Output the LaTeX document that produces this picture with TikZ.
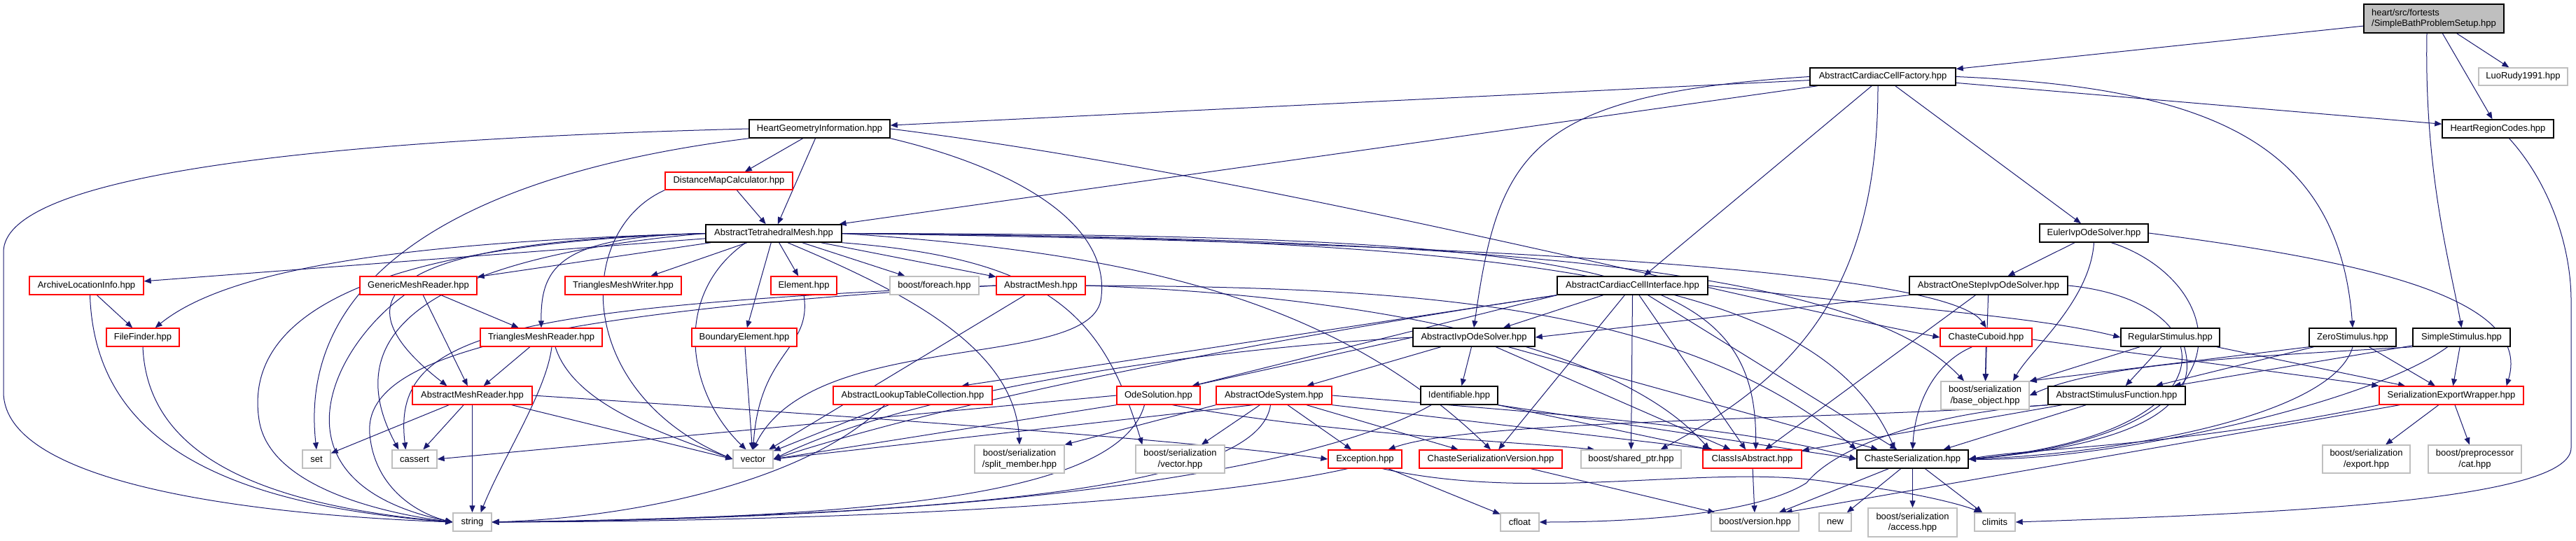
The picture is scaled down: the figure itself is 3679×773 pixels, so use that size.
\documentclass[tikz,border=0pt]{standalone}
\usepackage{fontspec}
\setmainfont{Liberation Sans}
\usetikzlibrary{arrows.meta}
\definecolor{edgeblue}{HTML}{191970}
\definecolor{grayb}{HTML}{BFBFBF}
\definecolor{redb}{HTML}{FF0000}
\definecolor{rootfill}{HTML}{BFBFBF}
\pgfdeclarelayer{paper}
\pgfdeclarelayer{links}
\pgfsetlayers{paper,links,main}
\tikzset{
 nbox/.style={draw, fill=white, inner sep=0pt, font=\fontsize{13}{15.5}\selectfont, align=center},
 blk/.style={nbox, draw=black, line width=1.5pt},
 rd/.style={nbox, draw=redb, line width=1.3pt},
 gr/.style={nbox, draw=grayb, line width=1.3pt},
 rootbox/.style={nbox, draw=black, fill=rootfill, line width=1.5pt, align=left},
 dep/.style={draw=edgeblue, line width=1pt, -{Triangle[length=10pt,width=8pt]}},
}
\newcommand\nd[7]{\node[#1, minimum width=#4pt-#3pt, minimum height=#6pt-#5pt] (#2) at ({(#3+#4)/2},{(#5+#6)/2}) {#7};}
\begin{document}
\begin{tikzpicture}[x=1pt,y=-1pt]
\begin{pgfonlayer}{paper}
\fill[white] (0,0) rectangle (3679,773);
\end{pgfonlayer}
\useasboundingbox (0,0) rectangle (3679,773);
% nodes
\nd{rootbox}{sb}{3376}{3576}{6}{47}{heart/src/fortests\\/SimpleBathProblemSetup.hpp}
\nd{blk}{accf}{2585}{2793}{97}{122}{AbstractCardiacCellFactory.hpp}
\nd{gr}{luo}{3540}{3667}{97}{122}{LuoRudy1991.hpp}
\nd{blk}{hgi}{1070}{1271}{171}{197}{HeartGeometryInformation.hpp}
\nd{blk}{hrc}{3488}{3647}{171}{197}{HeartRegionCodes.hpp}
\nd{rd}{dmc}{950}{1132}{246}{271}{DistanceMapCalculator.hpp}
\nd{blk}{atm}{1008}{1202}{321}{346}{AbstractTetrahedralMesh.hpp}
\nd{blk}{eios}{2913}{3068}{320}{346}{EulerIvpOdeSolver.hpp}
\nd{rd}{ali}{42}{205}{395}{421}{ArchiveLocationInfo.hpp}
\nd{rd}{gmr}{514}{681}{395}{421}{GenericMeshReader.hpp}
\nd{rd}{tmw}{807}{973}{395}{421}{TrianglesMeshWriter.hpp}
\nd{rd}{elem}{1101}{1195}{395}{421}{Element.hpp}
\nd{gr}{foreach}{1271}{1398}{395}{421}{boost/foreach.hpp}
\nd{rd}{am}{1423}{1550}{395}{421}{AbstractMesh.hpp}
\nd{blk}{acci}{2224}{2439}{395}{421}{AbstractCardiacCellInterface.hpp}
\nd{blk}{aos}{2727}{2953}{395}{421}{AbstractOneStepIvpOdeSolver.hpp}
\nd{rd}{ff}{152}{256}{469}{495}{FileFinder.hpp}
\nd{rd}{tmr}{686}{860}{469}{495}{TrianglesMeshReader.hpp}
\nd{rd}{be}{988}{1138}{469}{495}{BoundaryElement.hpp}
\nd{blk}{aios}{2018}{2192}{469}{495}{AbstractIvpOdeSolver.hpp}
\nd{rd}{cc}{2771}{2902}{469}{495}{ChasteCuboid.hpp}
\nd{blk}{rs}{3029}{3170}{469}{495}{RegularStimulus.hpp}
\nd{blk}{zs}{3298}{3422}{469}{495}{ZeroStimulus.hpp}
\nd{blk}{ss}{3446}{3585}{469}{495}{SimpleStimulus.hpp}
\nd{rd}{amr}{589}{760}{552}{578}{AbstractMeshReader.hpp}
\nd{rd}{altc}{1190}{1417}{552}{578}{AbstractLookupTableCollection.hpp}
\nd{rd}{odes}{1595}{1714}{552}{578}{OdeSolution.hpp}
\nd{rd}{aosys}{1737}{1902}{552}{578}{AbstractOdeSystem.hpp}
\nd{blk}{ident}{2029}{2139}{552}{578}{Identifiable.hpp}
\nd{gr}{bso}{2772}{2898}{545}{585}{boost/serialization\\/base\_object.hpp}
\nd{blk}{asf}{2925}{3121}{552}{578}{AbstractStimulusFunction.hpp}
\nd{rd}{sew}{3398}{3604}{552}{578}{SerializationExportWrapper.hpp}
\nd{gr}{set}{432}{472}{643}{669}{set}
\nd{gr}{cassert}{560}{624}{643}{669}{cassert}
\nd{gr}{vector}{1047}{1104}{643}{669}{vector}
\nd{gr}{split}{1392}{1520}{636}{676}{boost/serialization\\/split\_member.hpp}
\nd{gr}{bsv}{1622}{1749}{636}{676}{boost/serialization\\/vector.hpp}
\nd{rd}{exc}{1897}{2002}{643}{669}{Exception.hpp}
\nd{rd}{csv}{2027}{2231}{643}{669}{ChasteSerializationVersion.hpp}
\nd{gr}{sp}{2258}{2401}{643}{669}{boost/shared\_ptr.hpp}
\nd{rd}{cia}{2432}{2573}{643}{669}{ClassIsAbstract.hpp}
\nd{blk}{cs}{2652}{2811}{643}{669}{ChasteSerialization.hpp}
\nd{gr}{bse}{3317}{3442}{636}{676}{boost/serialization\\/export.hpp}
\nd{gr}{bpc}{3468}{3601}{636}{676}{boost/preprocessor\\/cat.hpp}
\nd{gr}{string}{647}{702}{733}{759}{string}
\nd{gr}{cfloat}{2143}{2198}{733}{759}{cfloat}
\nd{gr}{bv}{2444}{2569}{733}{759}{boost/version.hpp}
\nd{gr}{new}{2598}{2644}{733}{759}{new}
\nd{gr}{bsa}{2668}{2795}{726}{767}{boost/serialization\\/access.hpp}
\nd{gr}{climits}{2820}{2878}{733}{759}{climits}
\begin{pgfonlayer}{links}
% root
\draw[dep] (sb) -- (accf);
\draw[dep] (sb) -- (luo);
\draw[dep] (sb) -- (hrc);
\draw[dep] ([xshift=-10pt]sb.south) .. controls (3462,250) and (3500,380) .. (ss.north);
% AbstractCardiacCellFactory
\draw[dep] (accf) -- (hgi);
\draw[dep] (accf) -- (atm);
\draw[dep] (accf.west) .. controls (2180,135) and (2140,220) .. (aios.north);
\draw[dep] (accf) -- (acci);
\draw[dep] (accf) -- (eios);
\draw[dep] (accf) -- (hrc);
\draw[dep] (accf.east) .. controls (3150,125) and (3340,200) .. (zs.north);
\draw[dep] ([xshift=-7pt]accf.south) .. controls (2682,420) and (2560,540) .. ([xshift=-30pt]sp.north east);
% HeartGeometryInformation
\draw[dep] (hgi) -- (dmc);
\draw[dep] (hgi) -- (atm);
\draw[dep] (hgi.south west) .. controls (650,250) and (425,400) .. (set.north);
\draw[dep] (hgi.west) .. controls (450,200) and (5,250) .. (5,360) -- (5,560) .. controls (5,690) and (350,735) .. (string.west);
\draw[dep] (hgi.south east) .. controls (1450,240) and (1590,320) .. (1572,430) .. controls (1550,530) and (1160,470) .. (vector.north);
\draw[dep] (hgi.east) .. controls (1800,250) and (2450,420) .. (cc.west);
% DistanceMapCalculator
\draw[dep] (dmc) -- (atm);
\draw[dep] (dmc.south west) .. controls (820,330) and (820,560) .. (vector.west);
% AbstractTetrahedralMesh
\draw[dep] (atm) -- (ali);
\draw[dep] (atm.west) .. controls (600,345) and (330,380) .. ([xshift=-35pt]ff.north east);
\draw[dep] (atm) -- (gmr);
\draw[dep] (atm.west) .. controls (800,338) and (772,380) .. (tmr.north);
\draw[dep] (atm.west) .. controls (560,345) and (470,420) .. ([xshift=50pt]amr.north west);
\draw[dep] (atm.west) .. controls (480,350) and (350,470) .. (370,600) .. controls (385,700) and (560,735) .. (string.west);
\draw[dep] (atm.west) .. controls (700,360) and (460,440) .. ([xshift=10pt]cassert.north west);
\draw[dep] (atm) -- (tmw);
\draw[dep] (atm) -- (elem);
\draw[dep] (atm) -- (be);
\draw[dep] (atm) -- (foreach);
\draw[dep] (atm) -- (am);
\draw[dep] ([xshift=-40pt]atm.south) .. controls (960,420) and (980,560) .. ([xshift=-10pt]vector.north);
\draw[dep] ([xshift=20pt]atm.south) .. controls (1300,420) and (1450,500) .. (split.north);
\draw[dep] (atm.south east) .. controls (1500,370) and (1575,450) .. ([xshift=10pt]bsv.north west);
\draw[dep] (atm.east) .. controls (1600,360) and (1900,420) .. (csv.north);
\draw[dep] (atm.east) .. controls (2000,345) and (2780,380) .. (cc.north);
\draw[dep] (atm.east) .. controls (2300,335) and (2510,380) .. ([xshift=5pt]cia.north);
\draw[dep] (atm.east) .. controls (2200,340) and (2600,400) .. ([xshift=-25pt]cs.north);
\draw[dep] (atm.east) .. controls (2100,340) and (2650,380) .. ([xshift=-30pt]bso.north);
% mesh readers
\draw[dep] (gmr) -- (tmr);
\draw[dep] (gmr) -- (amr);
\draw[dep] ([xshift=-20pt]gmr.south) .. controls (470,500) and (380,690) .. (string.west);
\draw[dep] (tmr) -- (amr);
\draw[dep] ([xshift=15pt]tmr.south) .. controls (780,560) and (720,650) .. ([xshift=12pt]string.north);
\draw[dep] ([xshift=20pt]tmr.south) .. controls (820,580) and (950,620) .. (vector.west);
\draw[dep] (amr) -- (set);
\draw[dep] (amr) -- (cassert);
\draw[dep] (amr) -- (string);
\draw[dep] ([xshift=-30pt]amr.south east) -- (vector.west);
\draw[dep] (amr.east) .. controls (1300,600) and (1700,630) .. (exc.west);
\draw[dep] (ali) -- (ff);
\draw[dep] ([xshift=5pt]ali.south) .. controls (135,620) and (300,720) .. (string.west);
\draw[dep] (ff.south) .. controls (210,640) and (350,720) .. (string.west);
\draw[dep] (elem.south) .. controls (1160,500) and (1085,500) .. (vector.north);
\draw[dep] (be) -- (vector);
% AbstractMesh
\draw[dep] (am) -- (vector);
\draw[dep] (am.west) .. controls (700,440) and (560,480) .. ([xshift=20pt]cassert.north west);
\draw[dep] (am.west) .. controls (700,450) and (520,520) .. (528,620) .. controls (535,700) and (600,735) .. (string.west);
\draw[dep] (am.east) .. controls (2000,410) and (2400,430) .. (cs.north west);
\draw[dep] (am.east) .. controls (1900,420) and (2300,480) .. ([xshift=10pt]cia.north west);
% AbstractCardiacCellInterface
\draw[dep] (acci) -- (aios);
\draw[dep] (acci.south west) -- ([xshift=-12pt]odes.north east);
\draw[dep] (acci.south west) -- ([xshift=70pt]altc.north);
\draw[dep] (acci) -- (csv);
\draw[dep] (acci.south) -- (sp.north);
\draw[dep] (acci) -- (cia);
\draw[dep] (acci) -- (cs);
\draw[dep] (acci.east) .. controls (2700,440) and (2900,450) .. (rs.west);
\draw[dep] (acci.south west) .. controls (1900,470) and (1400,560) .. (vector.east);
% AbstractIvpOdeSolver
\draw[dep] (aios.west) -- ([xshift=-12pt]odes.north east);
\draw[dep] (aios) -- (aosys);
\draw[dep] (aios) -- (ident);
\draw[dep] (aios.west) .. controls (1700,500) and (1300,560) .. (vector.east);
\draw[dep] (aios) -- (cia);
\draw[dep] (aios) -- (cs);
% AbstractOneStepIvpOdeSolver, EulerIvpOdeSolver
\draw[dep] (aos.south west) -- (aios.east);
\draw[dep] (aos) -- (cia);
\draw[dep] (aos) -- (bso);
\draw[dep] (aos.east) .. controls (3180,430) and (3200,620) .. (cs.east);
\draw[dep] (eios) -- (aos);
\draw[dep] (eios.south) .. controls (2985,430) and (2900,500) .. ([xshift=40pt]bso.north);
\draw[dep] ([xshift=25pt]eios.south) .. controls (3180,400) and (3240,620) .. (cs.east);
\draw[dep] (eios.east) .. controls (3350,370) and (3620,420) .. ([xshift=-25pt]sew.north east);
% ChasteCuboid and stimuli
\draw[dep] (cc) -- (bso);
\draw[dep] ([xshift=-20pt]cc.south) .. controls (2760,520) and (2735,580) .. (cs.north);
\draw[dep] ([yshift=-3pt]cc.east) -- (sew.north west);
\draw[dep] (rs) -- (bso);
\draw[dep] (rs) -- (asf);
\draw[dep] ([xshift=20pt]rs.south) .. controls (3150,600) and (3000,640) .. (cs.east);
\draw[dep] (rs) -- (sew);
\draw[dep] (zs.south west) -- (bso.north east);
\draw[dep] (zs) -- (asf);
\draw[dep] (zs.south) .. controls (3330,600) and (3000,650) .. (cs.east);
\draw[dep] (zs) -- (sew);
\draw[dep] (ss.south west) .. controls (3200,510) and (3000,520) .. (bso.east);
\draw[dep] (ss) -- (asf);
\draw[dep] ([xshift=-20pt]ss.south) .. controls (3380,580) and (3000,660) .. (cs.east);
\draw[dep] (ss) -- (sew);
% AbstractStimulusFunction
\draw[dep] (asf) -- (cia);
\draw[dep] (asf) -- (cs);
\draw[dep] (asf.south west) .. controls (2600,600) and (2100,600) .. ([xshift=-20pt]exc.north east);
\draw[dep] (asf.south west) .. controls (2750,590) and (2620,640) .. (2580,690) .. controls (2500,740) and (2300,746) .. (cfloat.east);
% SerializationExportWrapper
\draw[dep] ([xshift=30pt]sew.south west) -- ([xshift=-20pt]bv.north east);
\draw[dep] (sew) -- (bse);
\draw[dep] (sew) -- (bpc);
\draw[dep] (sew.south west) .. controls (3100,640) and (2900,640) .. (cs.east);
% AbstractOdeSystem
\draw[dep] (aosys) -- (bsv);
\draw[dep] (aosys) -- (exc);
\draw[dep] (aosys) -- (csv);
\draw[dep] (aosys.south east) -- ([xshift=15pt]cia.north west);
\draw[dep] (aosys.east) .. controls (2200,590) and (2500,610) .. (cs.west);
\draw[dep] ([xshift=-30pt]aosys.south) -- (vector.east);
\draw[dep] (aosys.south west) -- (split.north east);
\draw[dep] ([xshift=-5pt]aosys.south) .. controls (1800,680) and (1500,735) .. (string.east);
% OdeSolution
\draw[dep] (odes.south west) -- (vector.east);
\draw[dep] (odes.west) -- (cassert.east);
\draw[dep] ([xshift=-20pt]odes.south) .. controls (1600,700) and (1300,740) .. (string.east);
\draw[dep] ([xshift=20pt]odes.south) .. controls (1900,620) and (2150,630) .. ([xshift=20pt]sp.north west);
% AbstractLookupTableCollection, Identifiable
\draw[dep] (altc) -- (vector);
\draw[dep] ([xshift=-40pt]altc.south) .. controls (1150,690) and (900,740) .. (string.east);
\draw[dep] ([xshift=-40pt]ident.south) .. controls (1900,660) and (1500,740) .. (string.east);
\draw[dep] (ident.south east) -- (cs.west);
\draw[dep] (ident.south east) -- ([xshift=10pt]cia.north west);
% Exception
\draw[dep] (exc) -- (cfloat);
\draw[dep] ([xshift=-25pt]exc.south) .. controls (1700,720) and (1200,745) .. (string.east);
\draw[dep] ([xshift=25pt]exc.south) .. controls (2200,720) and (2450,660) .. (2620,690) .. controls (2720,700) and (2800,720) .. ([xshift=10pt]climits.north west);
% ChasteSerialization and others
\draw[dep] (cs) -- (bv);
\draw[dep] (cs) -- (new);
\draw[dep] (cs) -- (bsa);
\draw[dep] (cs) -- (climits);
\draw[dep] (cia) -- (bv);
\draw[dep] (csv) -- (bv);
% HeartRegionCodes
\draw[dep] ([xshift=16pt]hrc.south) .. controls (3640,260) and (3672,350) .. (3672,430) -- (3672,640) .. controls (3672,720) and (3200,735) .. (climits.east);
\end{pgfonlayer}
\end{tikzpicture}
\end{document}
